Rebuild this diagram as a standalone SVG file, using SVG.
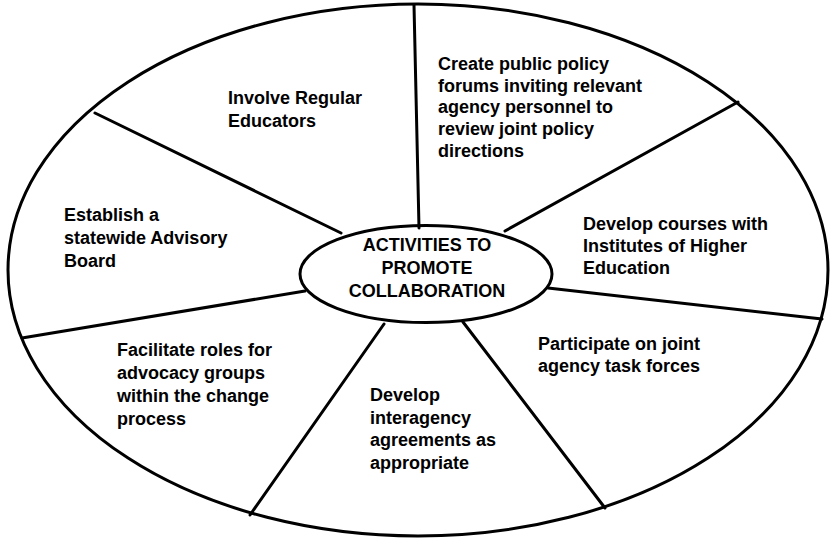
<svg xmlns="http://www.w3.org/2000/svg" width="830" height="540" viewBox="0 0 830 540">
<style>
.ln{stroke:#000;stroke-width:3;fill:none;stroke-linecap:round}
.t{font-family:"Liberation Sans",Arial,Helvetica,sans-serif;font-size:18px;font-weight:bold;fill:#000}
.c{text-anchor:middle}
</style>
<rect width="830" height="540" fill="#fff"/>
<g id="outer">
<ellipse cx="418" cy="270" rx="410" ry="266" fill="#fff" class="ln"/>
</g>
<g id="connectors">
<line class="ln" x1="414" y1="5" x2="419" y2="228"/>
<line class="ln" x1="95" y1="113" x2="341" y2="233"/>
<line class="ln" x1="22" y1="338" x2="305" y2="291"/>
<line class="ln" x1="250" y1="515" x2="384" y2="324"/>
<line class="ln" x1="605" y1="508" x2="463" y2="322"/>
<line class="ln" x1="822" y1="319" x2="548" y2="288"/>
<line class="ln" x1="738" y1="102" x2="505" y2="231"/>
</g>
<g id="center">
<ellipse cx="426" cy="274" rx="126" ry="48.5" fill="#fff" class="ln"/>
<text class="t c" x="427" y="251">ACTIVITIES TO</text>
<text class="t c" x="427" y="274">PROMOTE</text>
<text class="t c" x="427" y="297">COLLABORATION</text>
</g>
<g id="involve-regular-educators">
<text class="t" x="228" y="104">Involve Regular</text>
<text class="t" x="228" y="127">Educators</text>
</g>
<g id="public-policy-forums">
<text class="t" x="438" y="70">Create public policy</text>
<text class="t" x="438" y="92">forums inviting relevant</text>
<text class="t" x="438" y="113">agency personnel to</text>
<text class="t" x="438" y="135">review joint policy</text>
<text class="t" x="438" y="157">directions</text>
</g>
<g id="develop-courses">
<text class="t" x="583" y="230">Develop courses with</text>
<text class="t" x="583" y="252">Institutes of Higher</text>
<text class="t" x="583" y="274">Education</text>
</g>
<g id="task-forces">
<text class="t" x="538" y="350">Participate on joint</text>
<text class="t" x="538" y="372">agency task forces</text>
</g>
<g id="interagency-agreements">
<text class="t" x="370" y="401">Develop</text>
<text class="t" x="370" y="424">interagency</text>
<text class="t" x="370" y="446">agreements as</text>
<text class="t" x="370" y="469">appropriate</text>
</g>
<g id="advocacy-groups">
<text class="t" x="117" y="356">Facilitate roles for</text>
<text class="t" x="117" y="379">advocacy groups</text>
<text class="t" x="117" y="402">within the change</text>
<text class="t" x="117" y="425">process</text>
</g>
<g id="advisory-board">
<text class="t" x="64" y="221">Establish a</text>
<text class="t" x="64" y="244">statewide Advisory</text>
<text class="t" x="64" y="267">Board</text>
</g>
</svg>
